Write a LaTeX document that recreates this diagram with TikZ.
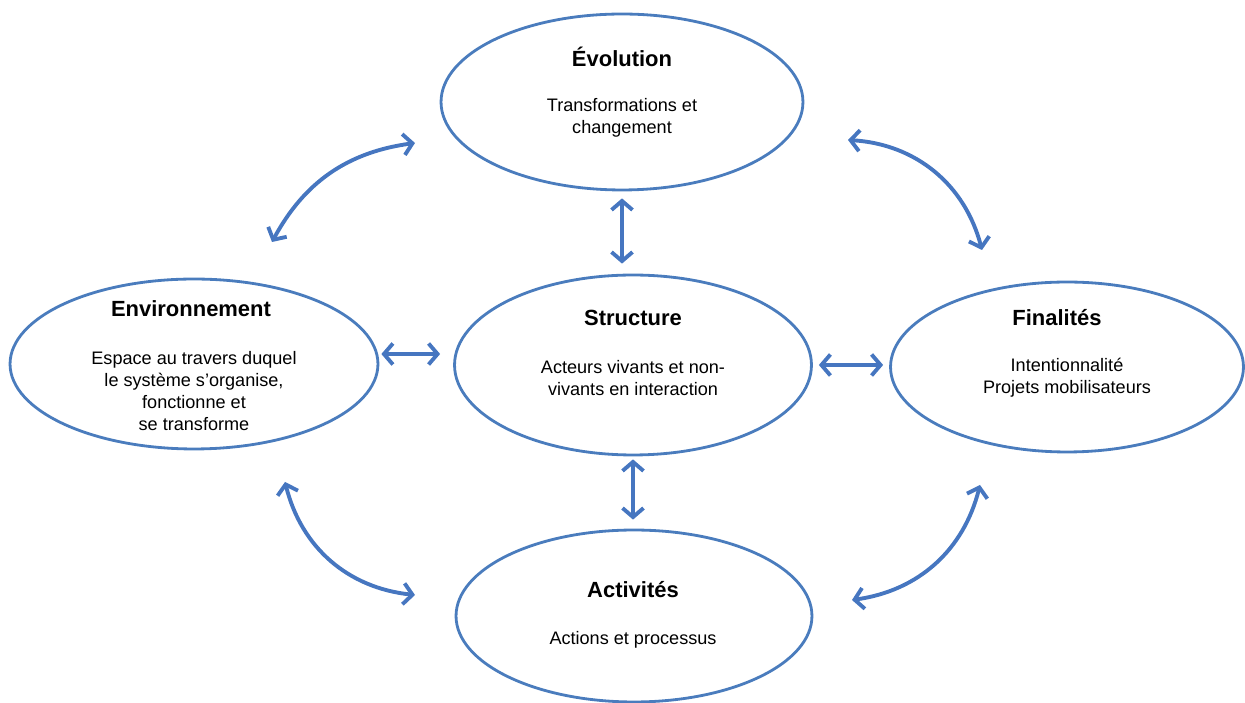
\documentclass[tikz,border=0pt]{standalone}
\usepackage{fontspec}
\setmainfont{Liberation Sans}
\usetikzlibrary{calc,positioning,arrows.meta,shapes.geometric}
\definecolor{myblue}{RGB}{74,124,189}
\definecolor{arrowblue}{RGB}{70,118,192}

\begin{document}
\begin{tikzpicture}[x=0.02cm,y=0.02cm,
  pole/.style={draw=myblue, ellipse, line width=1.6pt, inner sep=0pt},
  title/.style={font=\fontsize{12.5}{15}\selectfont\bfseries},
  body/.style={font=\fontsize{10.3}{12.6}\selectfont, align=center},
  biarrow/.style={arrowblue, line width=2.2pt, {Straight Barb[length=1.8mm,width=4.2mm]}-{Straight Barb[length=1.8mm,width=4.2mm]}}]
  \useasboundingbox (0,0) rectangle (1245,703);

  % the five poles
  \node[pole, minimum width=7.24cm, minimum height=3.52cm] (evo) at (622,601) {};
  \node[pole, minimum width=7.36cm, minimum height=3.40cm] (env) at (194,339) {};
  \node[pole, minimum width=7.14cm, minimum height=3.60cm] (str) at (633,338) {};
  \node[pole, minimum width=7.06cm, minimum height=3.40cm] (fin) at (1067,336) {};
  \node[pole, minimum width=7.12cm, minimum height=3.44cm] (act) at (634,87) {};

  % texts
  \node[title] (evo-t) at (622,646) {Évolution};
  \node[body] (evo-b) at (622,585) {Transformations et\\changement};
  \node[title] (env-t) at (191,394) {Environnement};
  \node[body] (env-b) at (194,312) {Espace au travers duquel\\le système s’organise,\\fonctionne et\\se transforme};
  \node[title] (str-t) at (633,385) {Structure};
  \node[body] (str-b) at (633,325) {Acteurs vivants et non-\\vivants en interaction};
  \node[title] (fin-t) at (1057,385) {Finalités};
  \node[body] (fin-b) at (1067,325) {Intentionnalité\\Projets mobilisateurs};
  \node[title] (act-t) at (633,113) {Activités};
  \node[body] (act-b) at (633,63) {Actions et processus};

  % straight links
  \draw[biarrow, shorten <=0.14cm, shorten >=0.2cm] (evo.south) -- (evo.south |- str.north);
  \draw[biarrow, shorten <=0.06cm, shorten >=0.18cm] (str.south) -- (str.south |- act.north);
  \draw[biarrow, shorten <=0.04cm, shorten >=0.26cm] ([yshift=0.2cm]env.east) -- ([yshift=0.2cm]env.east -| str.west);
  \draw[biarrow, shorten <=0.12cm, shorten >=0.12cm] (str.east) -- (str.east -| fin.west);

  % curved links
  \coordinate (tl-a) at (272,461);
  \coordinate (tl-b) at (415,560);
  \coordinate (tr-a) at (848,563);
  \coordinate (tr-b) at (982,453);
  \coordinate (bl-a) at (285,221);
  \coordinate (bl-b) at (415,108);
  \coordinate (br-a) at (852,103);
  \coordinate (br-b) at (980,218);
  \draw[biarrow] (tl-a) to[bend left=27] (tl-b);
  \draw[biarrow] (tr-a) to[bend left=36] (tr-b);
  \draw[biarrow] (bl-a) to[bend right=35] (bl-b);
  \draw[biarrow] (br-a) to[bend right=34] (br-b);
\end{tikzpicture}
\end{document}
